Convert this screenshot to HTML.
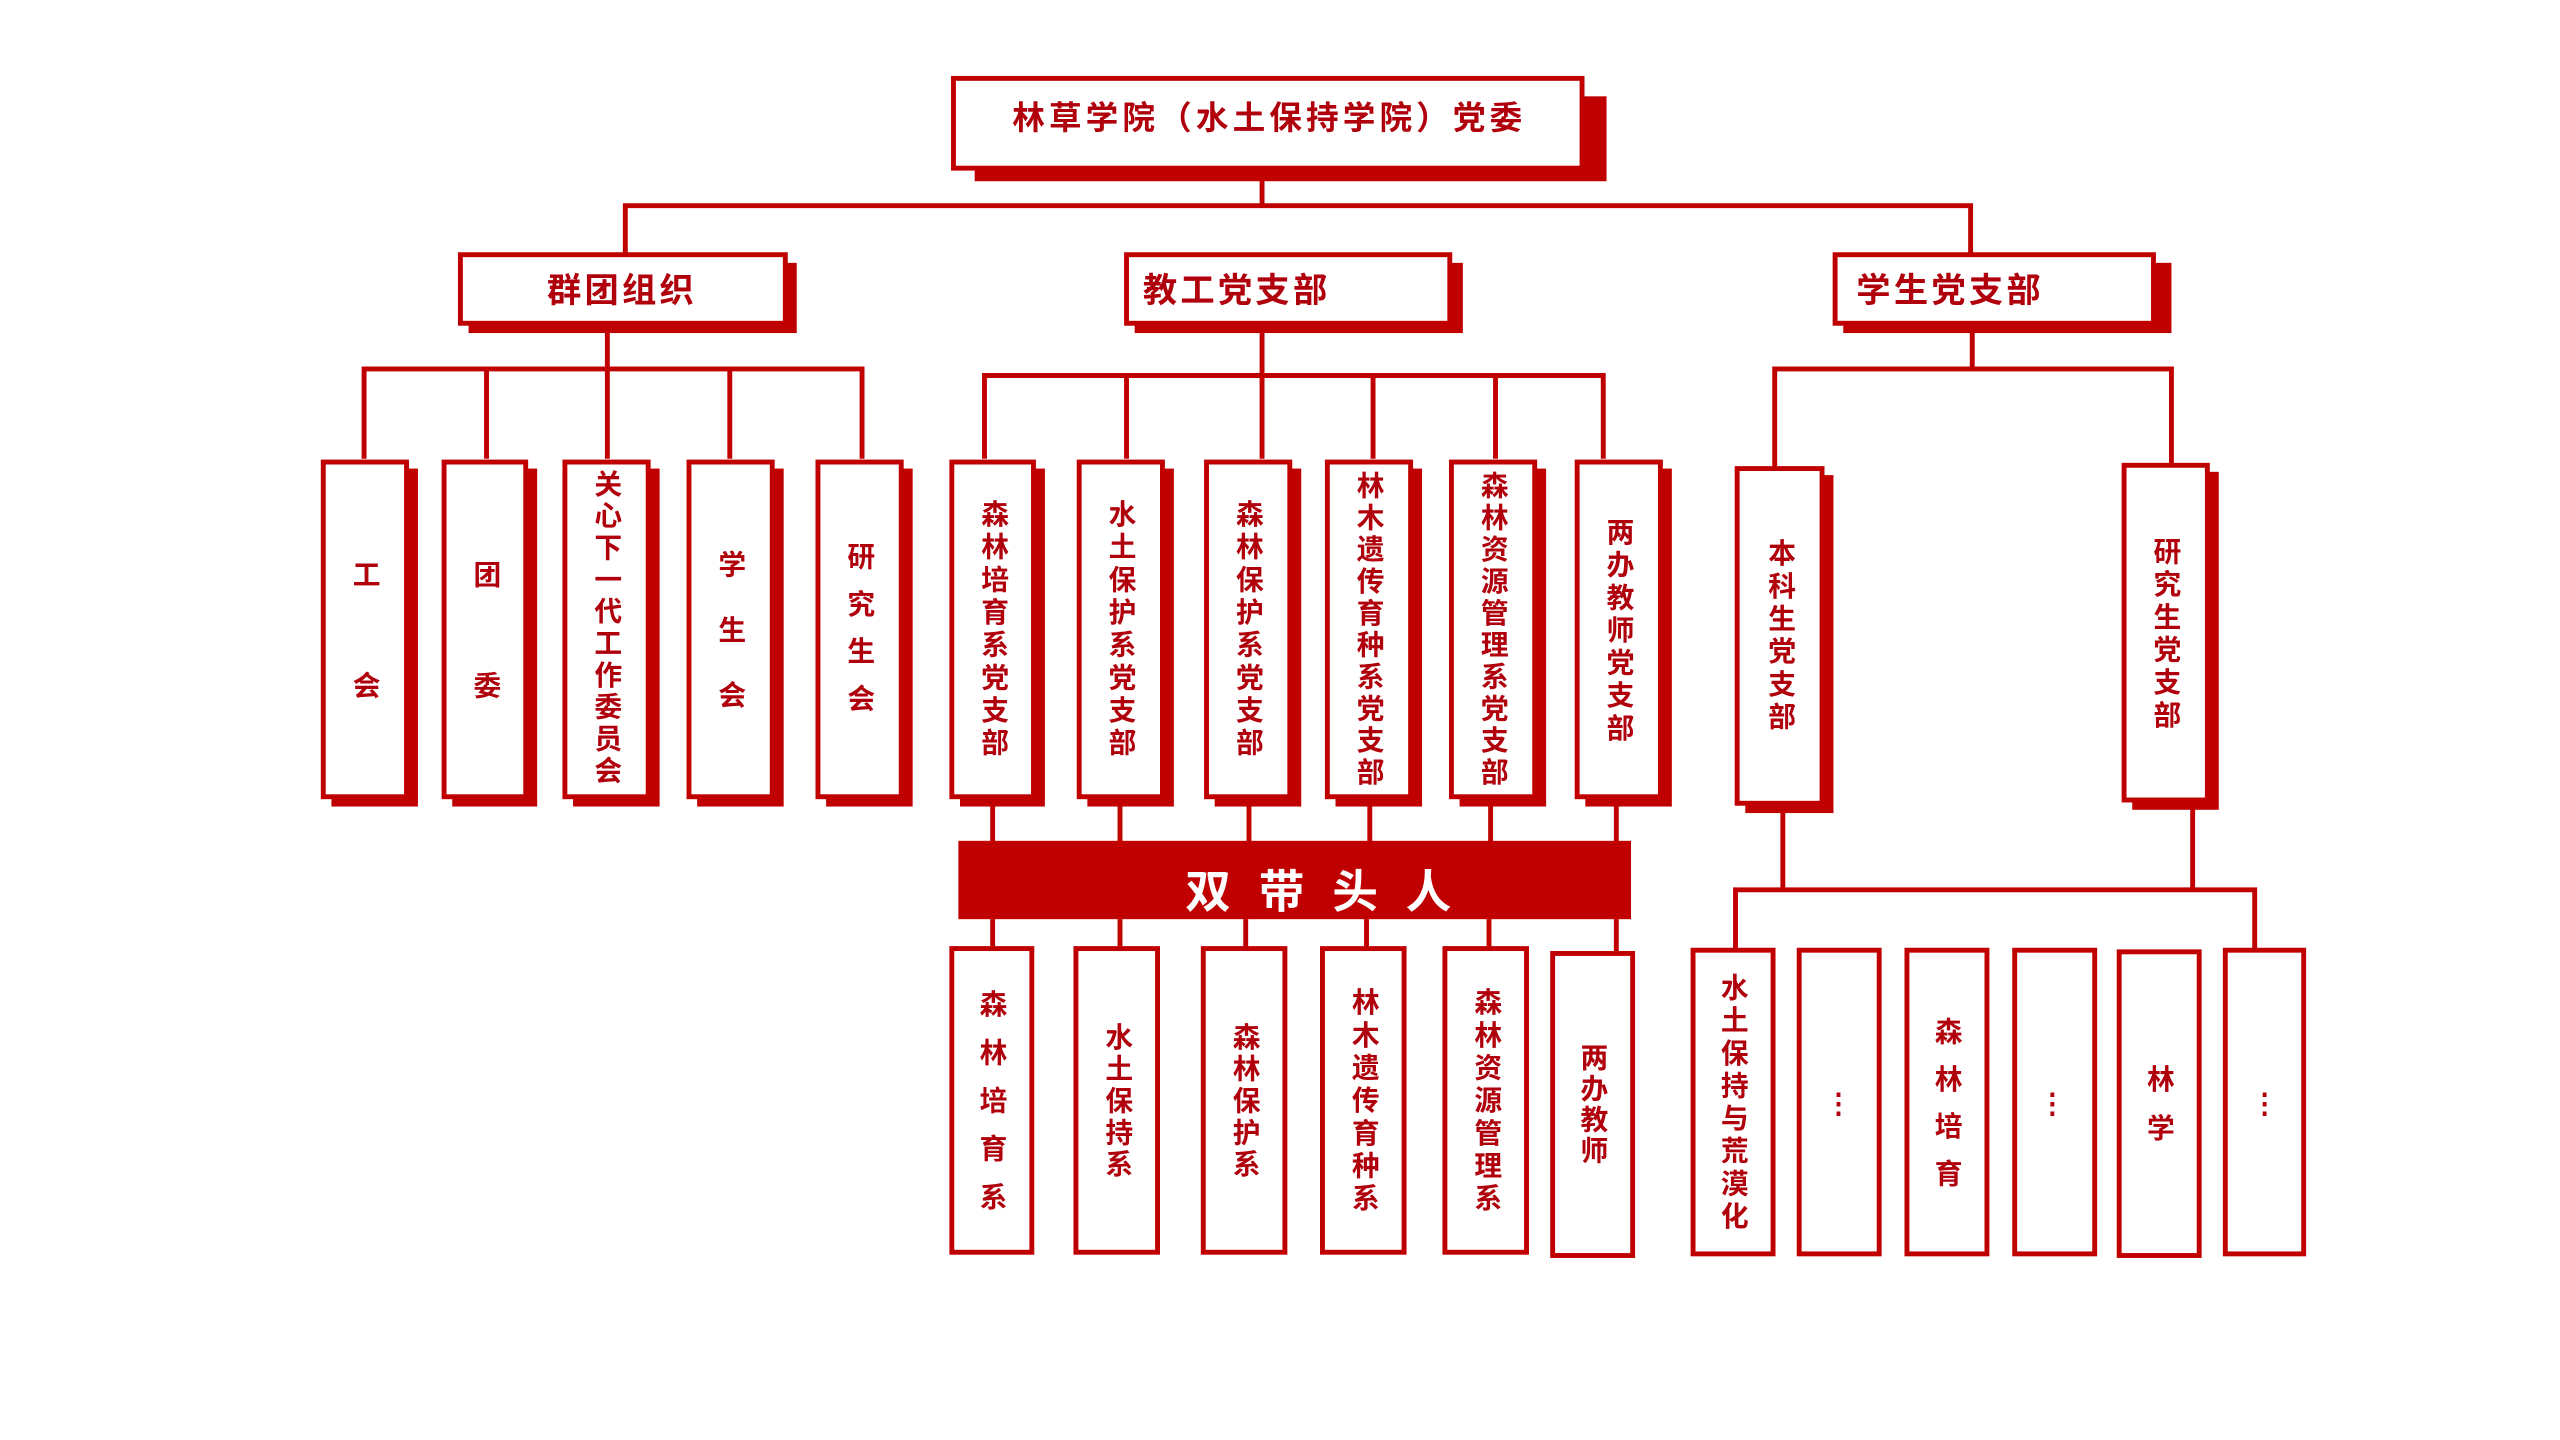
<!DOCTYPE html>
<html><head><meta charset="utf-8"><style>
html,body{margin:0;padding:0;background:#fff;width:2560px;height:1440px;overflow:hidden}
svg{display:block}
text{font-family:"Liberation Sans","Noto Sans CJK SC",sans-serif;font-weight:bold;fill:#b0000c}
.v{writing-mode:vertical-rl;text-orientation:upright;text-anchor:middle;font-size:17px}
</style></head><body>
<svg width="2560" height="1440" viewBox="0 0 1568 882" xmlns="http://www.w3.org/2000/svg">
<g fill="#c00000" stroke="none">
<rect x="597" y="59" width="387" height="52"/>
<rect x="287" y="161" width="201" height="43"/>
<rect x="695" y="161" width="201" height="43"/>
<rect x="1129" y="161" width="201" height="43"/>
</g>
<g stroke="#c00000" stroke-width="3" fill="none">
<path d="M773 103V126M383 155V126H1207V155"/>
<path d="M372 198V226M223 281V226H528V281M298 226V281M372 226V281M447 226V281"/>
<path d="M773 198V230M603 281V230H982V281M690 230V281M773 230V281M841 230V281M916 230V281"/>
<path d="M1208 198V226M1087 286V226H1330V284"/>
<path d="M608 489V516M686 489V516M765 489V516M839 489V516M913 489V516M990 489V516"/>
<path d="M608 563V580M686 563V580M763 563V580M837 563V580M912 563V580M990 563V583"/>
<path d="M1092 493V545M1343 491V545M1063 581V545H1381V581"/>
</g>
<g fill="#c00000">
<rect x="203" y="287" width="53" height="207"/>
<rect x="277" y="287" width="52" height="207"/>
<rect x="351" y="287" width="53" height="207"/>
<rect x="427" y="287" width="53" height="207"/>
<rect x="506" y="287" width="53" height="207"/>
<rect x="588" y="287" width="52" height="207"/>
<rect x="666" y="287" width="53" height="207"/>
<rect x="744" y="287" width="53" height="207"/>
<rect x="818" y="287" width="53" height="207"/>
<rect x="894" y="287" width="53" height="207"/>
<rect x="971" y="287" width="53" height="207"/>
<rect x="1069" y="291" width="54" height="207"/>
<rect x="1306" y="289" width="53" height="207"/>
<rect x="587" y="515" width="412" height="48"/>
</g>
<g fill="#fff" stroke="#c00000" stroke-width="3">
<rect x="584" y="48" width="385" height="55"/>
<rect x="282" y="156" width="199" height="42"/>
<rect x="690" y="156" width="198" height="42"/>
<rect x="1124" y="156" width="195" height="42"/>
<rect x="198" y="283" width="51" height="205"/>
<rect x="272" y="283" width="50" height="205"/>
<rect x="346" y="283" width="51" height="205"/>
<rect x="422" y="283" width="51" height="205"/>
<rect x="501" y="283" width="51" height="205"/>
<rect x="583" y="283" width="50" height="205"/>
<rect x="661" y="283" width="51" height="205"/>
<rect x="739" y="283" width="51" height="205"/>
<rect x="813" y="283" width="51" height="205"/>
<rect x="889" y="283" width="51" height="205"/>
<rect x="966" y="283" width="51" height="205"/>
<rect x="1064" y="287" width="52" height="205"/>
<rect x="1301" y="285" width="51" height="205"/>
<rect x="583" y="581" width="49" height="186"/>
<rect x="659" y="581" width="50" height="186"/>
<rect x="737" y="581" width="50" height="186"/>
<rect x="810" y="581" width="50" height="186"/>
<rect x="885" y="581" width="50" height="186"/>
<rect x="951" y="584" width="49" height="185"/>
<rect x="1037" y="582" width="49" height="186"/>
<rect x="1102" y="582" width="49" height="186"/>
<rect x="1168" y="582" width="49" height="186"/>
<rect x="1234" y="582" width="49" height="186"/>
<rect x="1298" y="583" width="49" height="186"/>
<rect x="1363" y="582" width="48" height="186"/>
</g>
<text x="620" y="79" font-size="20" letter-spacing="2.5">林草学院（水土保持学院）党委</text>
<text x="381" y="185" font-size="21" text-anchor="middle" letter-spacing="2">群团组织</text>
<text x="700" y="185" font-size="21" letter-spacing="2">教工党支部</text>
<text x="1137" y="185" font-size="21" letter-spacing="2">学生党支部</text>
<text x="726" y="556" font-size="28" letter-spacing="17" style="fill:#fff">双带头人</text>

<text class="v" x="223" y="411" letter-spacing="51">工会</text>
<text class="v" x="297" y="411" letter-spacing="51">团委</text>
<text class="v" x="371" y="385" letter-spacing="2.5">关心下一代工作委员会</text>
<text class="v" x="447" y="397" letter-spacing="23">学生会</text>
<text class="v" x="526" y="390" letter-spacing="12">研究生会</text>
<text class="v" x="608" y="386" letter-spacing="3">森林培育系党支部</text>
<text class="v" x="686" y="386" letter-spacing="3">水土保护系党支部</text>
<text class="v" x="764" y="386" letter-spacing="3">森林保护系党支部</text>
<text class="v" x="838" y="386" letter-spacing="2.5">林木遗传育种系党支部</text>
<text class="v" x="914" y="386" letter-spacing="2.5">森林资源管理系党支部</text>
<text class="v" x="991" y="387" letter-spacing="3">两办教师党支部</text>
<text class="v" x="1090" y="390" letter-spacing="3">本科生党支部</text>
<text class="v" x="1326" y="389" letter-spacing="3">研究生党支部</text>

<text class="v" x="607" y="680" letter-spacing="12.5">森林培育系</text>
<text class="v" x="684" y="675" letter-spacing="2.5">水土保持系</text>
<text class="v" x="762" y="675" letter-spacing="2.5">森林保护系</text>
<text class="v" x="835" y="675" letter-spacing="3">林木遗传育种系</text>
<text class="v" x="910" y="675" letter-spacing="3">森林资源管理系</text>
<text class="v" x="975" y="677" letter-spacing="2">两办教师</text>
<text class="v" x="1061" y="676" letter-spacing="3">水土保持与荒漠化</text>
<text class="v" x="1126" y="676" font-size="14">⋮</text>
<text class="v" x="1192" y="681" letter-spacing="12">森林培育</text>
<text class="v" x="1257" y="676" font-size="14">⋮</text>
<text class="v" x="1322" y="682" letter-spacing="13">林学</text>
<text class="v" x="1387" y="676" font-size="14">⋮</text>
</svg>
</body></html>
